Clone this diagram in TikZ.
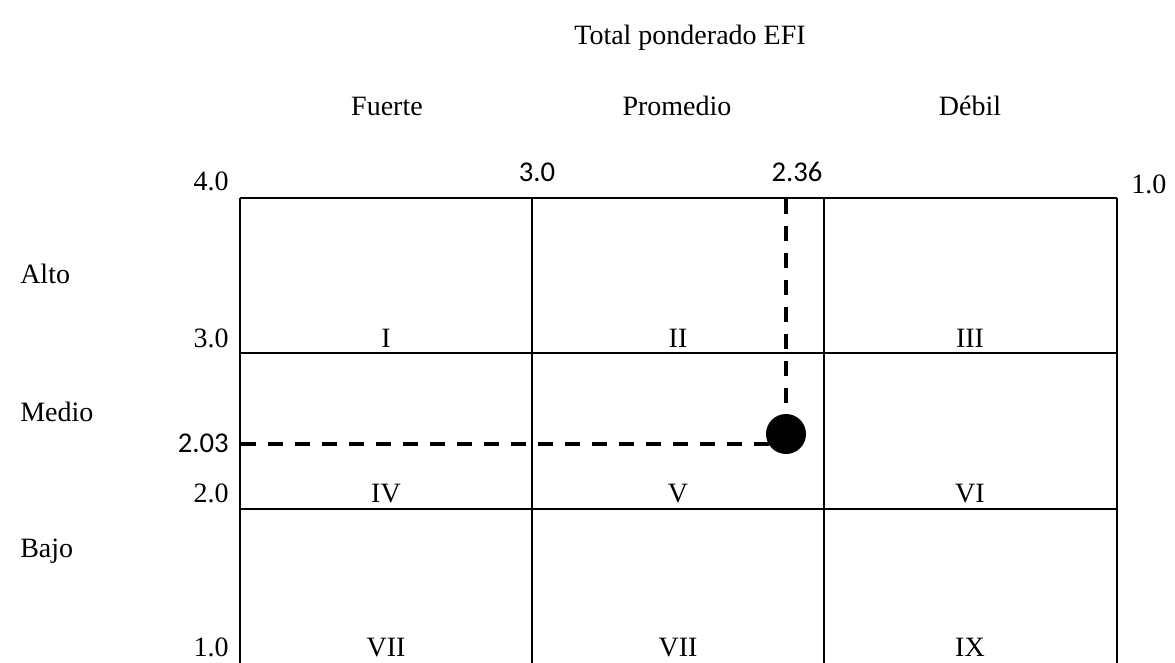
\documentclass[tikz,border=0pt]{standalone}
\usepackage{fontspec}
\setmainfont{Liberation Serif}
\newfontfamily\calib{Carlito}
\begin{document}
\begin{tikzpicture}[x=0.75pt,y=-0.75pt,
  lbl/.style={font=\fontsize{21}{24}\selectfont, inner sep=0pt, anchor=base},
  lblr/.style={lbl, anchor=base east},
  lbll/.style={lbl, anchor=base west},
  num/.style={font=\calib\fontsize{21.5}{24}\selectfont, inner sep=0pt, anchor=base},
  numr/.style={num, anchor=base east},
  grid/.style={line width=1.9pt},
  guide/.style={line width=3pt, dash pattern=on 11.25pt off 9pt}]
\useasboundingbox (0,0) rectangle (1175,663);
% grid
\draw[grid] (240,198) -- (1117,198);
\draw[grid] (240,353) -- (1117,353);
\draw[grid] (240,509) -- (1117,509);
\foreach \x in {240,532,824,1117} \draw[grid] (\x,198) -- (\x,663);
% headings
\node[lbl] (title) at (690,45) {Total ponderado EFI};
\node[lbl] (fuerte) at (387,116) {Fuerte};
\node[lbl] (prom) at (677,116) {Promedio};
\node[lbl] (debil) at (970,116) {Débil};
% top scale
\node[lblr] (t40) at (229,191) {4.0};
\node[num] (t30) at (537,182) {3.0};
\node[num] (t236) at (797,182) {2.36};
\node[lbll] (t10) at (1131,194) {1.0};
% left labels
\node[lbll] (alto) at (20,283) {Alto};
\node[lbll] (medio) at (20,421) {Medio};
\node[lbll] (bajo) at (20,557) {Bajo};
% left scale
\node[lblr] (l30) at (229,347) {3.0};
\node[numr] (l203) at (229,452) {2.03};
\node[lblr] (l20) at (229,502) {2.0};
\node[lblr] (l10) at (229,656) {1.0};
% cell labels
\node[lbl] (I) at (386,347) {I};
\node[lbl] (II) at (678,347) {II};
\node[lbl] (III) at (970,347) {III};
\node[lbl] (IV) at (386,502) {IV};
\node[lbl] (V) at (678,502) {V};
\node[lbl] (VI) at (970,502) {VI};
\node[lbl] (VIIa) at (386,656) {VII};
\node[lbl] (VIIb) at (678,656) {VII};
\node[lbl] (IX) at (970,656) {IX};
% point
\node[circle, fill=black, minimum size=30pt, inner sep=0pt] (pt) at (786,434) {};
\coordinate (vtop) at (786,199);
\coordinate (hleft) at (241,444);
\draw[guide] (vtop) -- (pt.north);
\draw[guide] (hleft) -- (pt.center |- hleft);
\end{tikzpicture}
\end{document}
